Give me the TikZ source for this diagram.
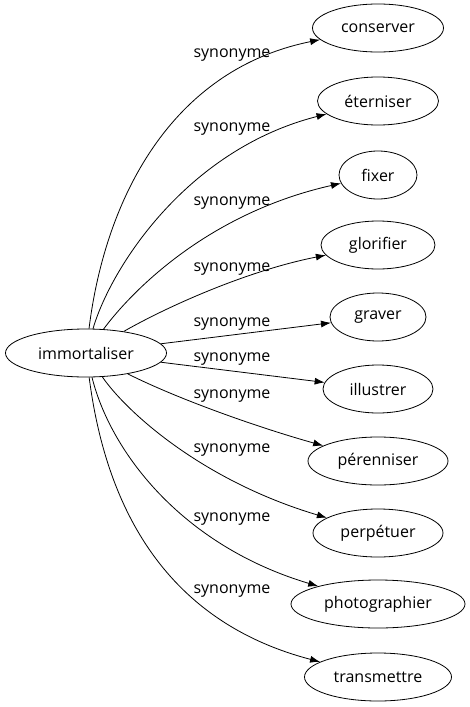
\documentclass[tikz,border=0pt]{standalone}
\usepackage{fontspec}
\setmainfont{Open Sans}
\usetikzlibrary{shapes.geometric, arrows.meta}
\tikzstyle{word} = [ellipse, draw, inner sep=1pt, minimum height=48pt, minimum width=78pt, font=\fontsize{16}{19}\selectfont]
\tikzstyle{lbl} = [font=\fontsize{16}{19}\selectfont, inner sep=0pt]
\tikzstyle{arrow} = [-{Latex[length=10pt, width=7pt]}]

\begin{document}
\begin{tikzpicture}[x=1pt, y=-1pt, line width=0.8pt]
    \useasboundingbox (0,0) rectangle (470,707);
    \node [word, minimum width=161pt] at (86,353) (imm) {immortaliser};
    \node [word, minimum width=131pt] at (378,28) (cons) {conserver};
    \node [word, minimum width=121pt] at (378,101) (eter) {éterniser};
    \node [word] at (378,175) (fix) {fixer};
    \node [word, minimum width=114pt] at (378,245) (glor) {glorifier};
    \node [word, minimum width=96pt] at (378,317) (grav) {graver};
    \node [word, minimum width=110pt] at (378,389) (illu) {illustrer};
    \node [word, minimum width=140pt] at (378,461) (pere) {pérenniser};
    \node [word, minimum width=130pt] at (378,533) (perp) {perpétuer};
    \node [word, minimum width=174pt] at (378,604) (phot) {photographier};
    \node [word, minimum width=147pt] at (378,677) (tran) {transmettre};

    \draw [arrow] (imm) .. controls (105,200) and (170,70) .. (cons) node [lbl] (l1) at (232,55) {synonyme};
    \draw [arrow] (imm) .. controls (110,270) and (185,150) .. (eter) node [lbl] (l2) at (232,129) {synonyme};
    \draw [arrow] (imm) .. controls (125,300) and (200,215) .. (fix) node [lbl] (l3) at (232,203) {synonyme};
    \draw [arrow] (imm) .. controls (170,305) and (250,270) .. (glor) node [lbl] (l4) at (232,269) {synonyme};
    \draw [arrow] (imm) -- (grav) node [lbl] (l5) at (232,324) {synonyme};
    \draw [arrow] (imm) -- (illu) node [lbl] (l6) at (232,359) {synonyme};
    \draw [arrow] (imm) .. controls (180,400) and (260,428) .. (pere) node [lbl] (l7) at (232,396) {synonyme};
    \draw [arrow] (imm) .. controls (125,410) and (200,480) .. (perp) node [lbl] (l8) at (232,450) {synonyme};
    \draw [arrow] (imm) .. controls (110,450) and (180,545) .. (phot) node [lbl] (l9) at (232,519) {synonyme};
    \draw [arrow] (imm) .. controls (105,500) and (160,620) .. (tran) node [lbl] (l10) at (232,591) {synonyme};
\end{tikzpicture}
\end{document}
